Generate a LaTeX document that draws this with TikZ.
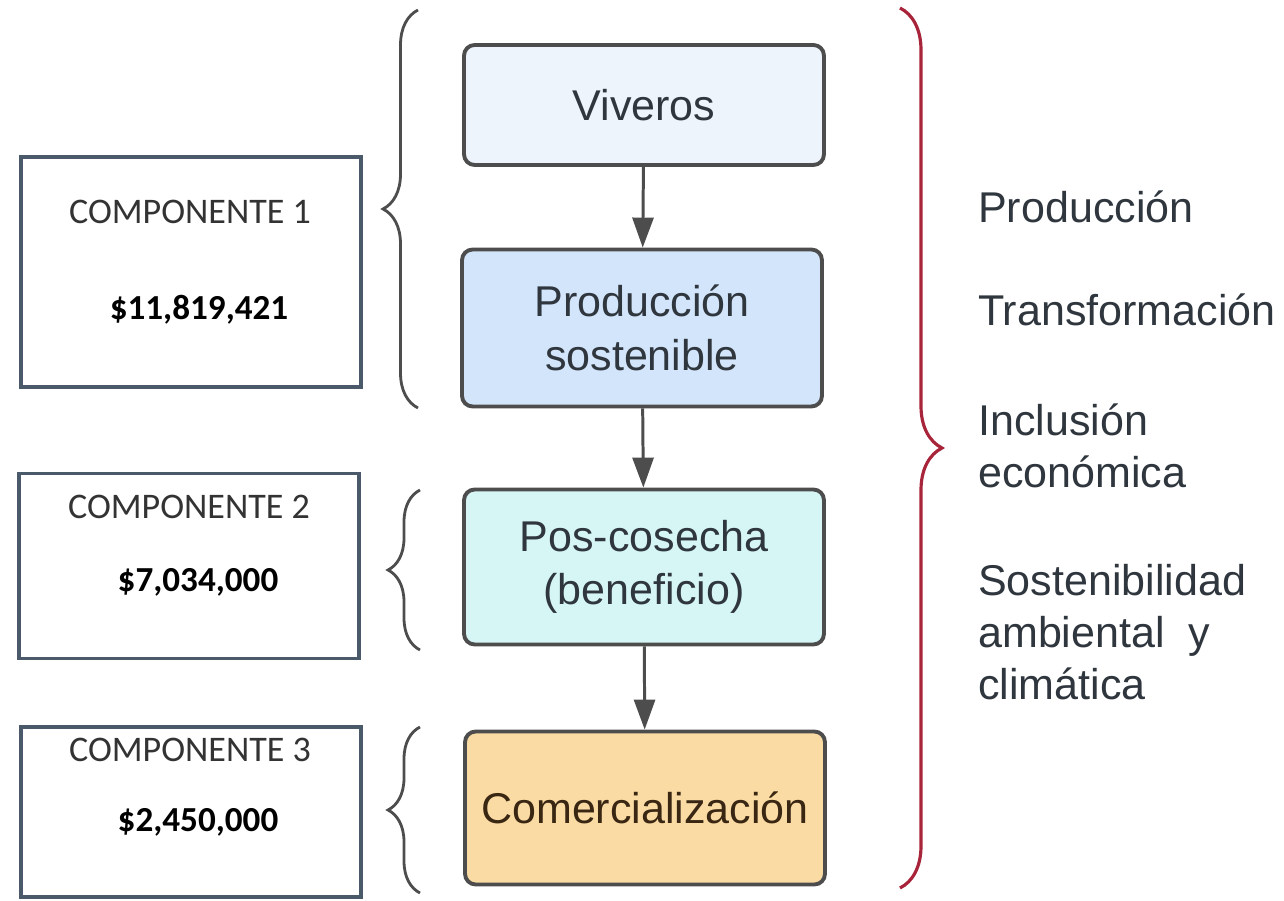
\documentclass[tikz,border=0pt]{standalone}
\usepackage{fontspec}
\setmainfont{Liberation Sans}
\newfontfamily\calfont{Carlito}
\usetikzlibrary{arrows.meta,decorations.pathreplacing,positioning}

\definecolor{edgegray}{HTML}{4D4D4D}
\definecolor{boxslate}{HTML}{4B5A6B}
\definecolor{vivfill}{HTML}{EEF4FC}
\definecolor{prodfill}{HTML}{D3E5FA}
\definecolor{posfill}{HTML}{D6F6F5}
\definecolor{comfill}{HTML}{FADBA3}
\definecolor{bracered}{HTML}{A8243A}
\definecolor{txtgray}{HTML}{2F363E}

\tikzset{
  stage/.style={draw=edgegray, line width=2.2pt, rounded corners=6pt, minimum width=7.2cm,
    align=center, text=txtgray, font=\fontsize{24.5}{30.5}\selectfont},
  compbox/.style={draw=boxslate, line width=2pt, minimum width=6.8cm},
  comptitle/.style={font=\calfont\fontsize{20.5}{24}\selectfont, text=black!80},
  amount/.style={font=\calfont\bfseries\fontsize{20}{24}\selectfont},
  flow/.style={draw=edgegray, line width=1.7pt, -{Triangle[length=0.6cm,width=0.42cm]}},
  curly/.style={decorate, decoration={brace, amplitude=#1}, line width=1.6pt},
  curly/.default=0.7cm,
  pillar/.style={anchor=west, align=left, text=txtgray, font=\fontsize{24.5}{29.6}\selectfont},
}

\begin{document}
\begin{tikzpicture}[x=0.02cm, y=-0.02cm]
    \useasboundingbox[fill=white] (0,0) rectangle (1284,901);
    % Stages of the chain
    \node[stage, fill=vivfill, minimum height=2.4cm] (viv) at (644,105) {Viveros};
    \node[stage, fill=prodfill, minimum height=3.14cm] (prod) at (642,328) {Producción\\sostenible};
    \node[stage, fill=posfill, minimum height=3.1cm] (pos) at (644,567) {Pos-cosecha\\(beneficio)};
    \node[stage, fill=comfill, minimum height=3.06cm, text=black!70!brown] (com) at (645,808) {Comercialización};
    \draw[flow] (viv) -- (prod);
    \draw[flow] (prod) -- (pos);
    \draw[flow] (pos) -- (com);
    % Components
    \node[compbox, minimum height=4.6cm] (c1) at (191,272) {};
    \node[compbox, minimum height=3.7cm] (c2) at (189,566) {};
    \node[compbox, minimum height=3.4cm] (c3) at (191,812) {};
    \node[comptitle] (t1) at (190,212) {COMPONENTE 1};
    \node[amount] (m1) at (199,310) {\$11,819,421};
    \node[comptitle] (t2) at (189,507) {COMPONENTE 2};
    \node[amount] (m2) at (198,582) {\$7,034,000};
    \node[comptitle] (t3) at (190,750) {COMPONENTE 3};
    \node[amount] (m3) at (198,822) {\$2,450,000};
    % Braces
    \coordinate (b1s) at (418,408);
    \coordinate (b1e) at (418,10);
    \coordinate (b2s) at (420,650);
    \coordinate (b2e) at (420,490);
    \coordinate (b3s) at (420,893);
    \coordinate (b3e) at (420,727);
    \draw[curly, draw=edgegray] (b1s) -- (b1e);
    \draw[curly=0.64cm, draw=edgegray] (b2s) -- (b2e);
    \draw[curly=0.64cm, draw=edgegray] (b3s) -- (b3e);
    \coordinate (rs) at (900,8);
    \coordinate (re) at (900,888);
    \draw[curly=0.84cm, draw=bracered, line width=1.8pt] (rs) -- (re);
    % Axes on the right
    \node[pillar] (p1) at (972,207) {Producción};
    \node[pillar] (p2) at (972,310) {Transformación};
    \node[pillar] (p3) at (972,446) {Inclusión\\económica};
    \node[pillar] (p4) at (972,632) {Sostenibilidad\\ambiental~ y\\climática};
\end{tikzpicture}
\end{document}
